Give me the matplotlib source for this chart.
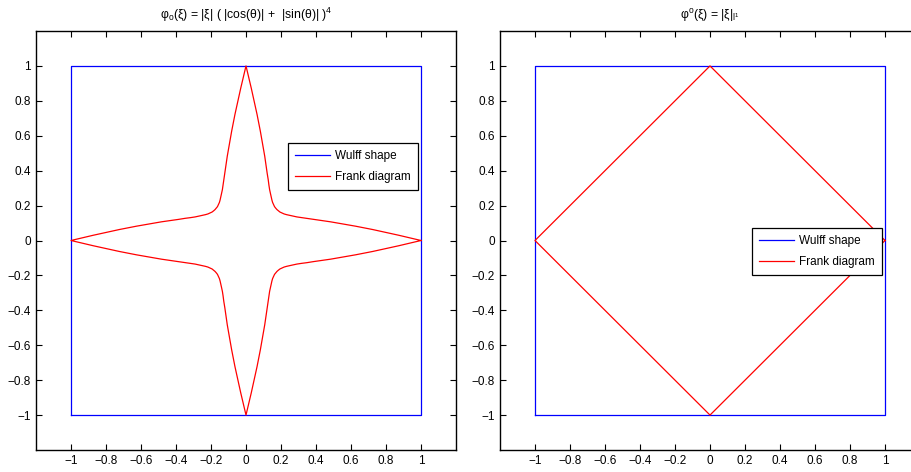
import matplotlib.pyplot as plt

plt.rcParams['font.family'] = ['Liberation Sans', 'DejaVu Sans']
plt.rcParams['mathtext.fontset'] = 'custom'
plt.rcParams['mathtext.rm'] = 'Liberation Sans'

# Wulff shape (square)
wulff_x = [-1, 1, 1, -1, -1]
wulff_y = [-1, -1, 1, 1, -1]

# Frank diagram, left: first octant of the star
oct_x = [1.000, 0.873, 0.723, 0.626, 0.547, 0.483, 0.429, 0.385, 0.348, 0.317,
         0.291, 0.268, 0.249, 0.232, 0.218, 0.205, 0.194, 0.185, 0.177]
oct_y = [0.000, 0.030, 0.063, 0.082, 0.096, 0.107, 0.115, 0.121, 0.127, 0.131,
         0.135, 0.140, 0.144, 0.148, 0.152, 0.158, 0.163, 0.170, 0.177]

# Frank diagram, right: diamond
diamond_x = [1, 0, -1, 0, 1]
diamond_y = [0, 1, 0, -1, 0]

# build full star from the octant by symmetry
q_x = oct_x + oct_y[::-1][1:]
q_y = oct_y + oct_x[::-1][1:]
star_x = q_x + [-v for v in q_x[::-1]] + [-v for v in q_x] + q_x[::-1]
star_y = q_y + q_y[::-1] + [-v for v in q_y] + [-v for v in q_y[::-1]]

ticks = [-1, -0.8, -0.6, -0.4, -0.2, 0, 0.2, 0.4, 0.6, 0.8, 1]
ticklabels = ['\u22121', '\u22120.8', '\u22120.6', '\u22120.4', '\u22120.2', '0',
              '0.2', '0.4', '0.6', '0.8', '1']

fig = plt.figure(figsize=(9.12, 4.72), dpi=100)
W, H = 912, 472
ax1 = fig.add_axes([36 / W, 22 / H, 420 / W, 419 / H])
ax2 = fig.add_axes([500 / W, 22 / H, 420 / W, 419 / H])

titles = ['\u03c6$_\\mathregular{o}$(\u03be) = |\u03be| ( |cos(\u03b8)| +  |sin(\u03b8)| )$^\\mathregular{4}$',
          '\u03c6$^\\mathregular{o}$(\u03be) = |\u03be|$_{\\mathregular{l}^\\mathregular{1}}$']
legpos = [(0.6, 0.733), (0.6, 0.53)]

for ax, fx, fy, title, lp in zip([ax1, ax2], [star_x, diamond_x], [star_y, diamond_y], titles, legpos):
    ax.plot(wulff_x, wulff_y, color='blue', lw=0.9, label='Wulff shape')
    ax.plot(fx, fy, color='red', lw=0.9, label='Frank diagram')
    ax.set_xlim(-1.2, 1.2)
    ax.set_ylim(-1.2, 1.2)
    ax.set_xticks(ticks)
    ax.set_yticks(ticks)
    ax.set_xticklabels(ticklabels)
    ax.set_yticklabels(ticklabels)
    ax.tick_params(direction='in', top=True, right=True, labelsize=8.5, length=4, width=0.8)
    for s in ax.spines.values():
        s.set_linewidth(1.0)
    ax.set_title(title, fontsize=8.8, pad=9)
    leg = ax.legend(loc='upper left', bbox_to_anchor=lp, fontsize=8.5, fancybox=False,
                    framealpha=1, edgecolor='black', handlelength=3.0, handletextpad=0.4,
                    borderpad=0.6, borderaxespad=0, labelspacing=0.75)
    leg.get_frame().set_linewidth(0.9)

fig.savefig('out.png', dpi=100)
